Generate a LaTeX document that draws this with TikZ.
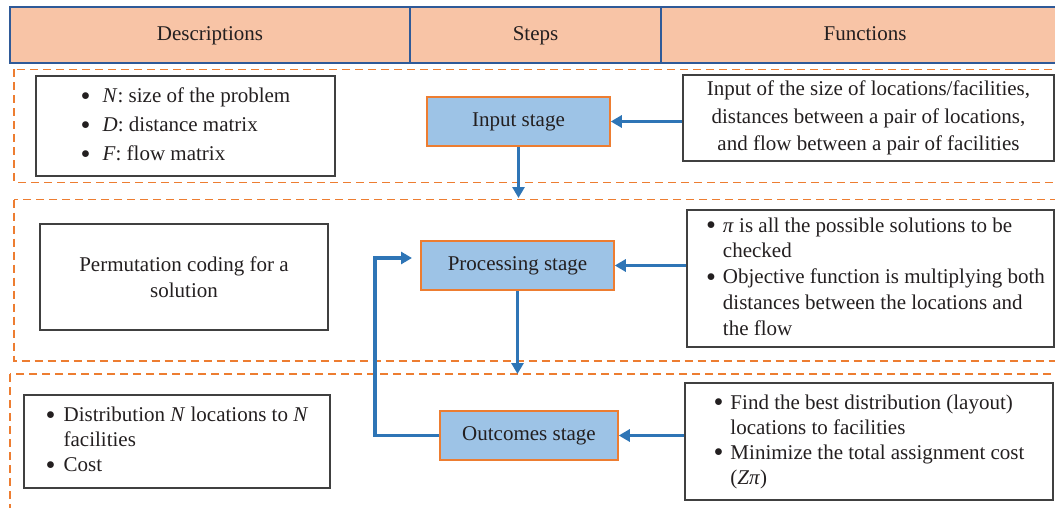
\documentclass[tikz,border=0pt]{standalone}
\usepackage{fontspec}
\setmainfont{Liberation Serif}
\usetikzlibrary{arrows.meta}
\definecolor{hdrfill}{HTML}{F8C4A6}
\definecolor{hdrline}{HTML}{2F5A98}
\definecolor{stagefill}{HTML}{9DC3E6}
\definecolor{orangeline}{HTML}{ED7D31}
\definecolor{arrowblue}{HTML}{2E75B6}
\definecolor{boxline}{HTML}{404040}
\definecolor{txt}{HTML}{231F20}
\tikzset{
  hdr/.style={draw=hdrline, line width=1.4pt, fill=hdrfill, minimum height=56pt, inner sep=0pt, text=txt},
  frame/.style={draw=orangeline, line width=1.4pt, dash pattern=on 8pt off 5pt},
  descbox/.style={draw=boxline, line width=1.4pt, inner sep=0pt, text=txt},
  stagebox/.style={draw=orangeline, line width=1.5pt, fill=stagefill, minimum height=49pt, inner sep=0pt, text=txt},
  arr/.style={draw=arrowblue, line width=3.2pt, -{Triangle[length=11pt,width=12pt]}},
}
\newcommand{\bb}{\raisebox{-2.5pt}{\scalebox{1.35}{\textbullet}}}
\begin{document}
\begin{tikzpicture}[x=1pt,y=-1pt, font=\fontsize{21}{29}\selectfont]
\useasboundingbox (0,0) rectangle (1055,508);
\clip (0,0) rectangle (1055,508);
% header
\node[hdr, minimum width=400pt] (hdesc) at (210,35) {\raisebox{-6pt}[0pt][0pt]{Descriptions}};
\node[hdr, minimum width=251pt] (hsteps) at (535.5,35) {\raisebox{-6pt}[0pt][0pt]{Steps}};
\node[hdr, minimum width=408pt] (hfunc) at (865,35) {\raisebox{-6pt}[0pt][0pt]{Functions}};
% dashed frames
\draw[frame] (14,69.5) rectangle (1070,182.5);
\draw[frame] (14,199.5) rectangle (1070,361);
\draw[frame] (10,374) rectangle (1070,530);
% description boxes
\node[descbox, minimum width=299pt, minimum height=100pt] (d1) at (185.5,126) {%
  \begin{tabular}{@{}l@{\hspace{12pt}}l@{}}
  \bb & \textit{N}: size of the problem\\
  \bb & \textit{D}: distance matrix\\
  \bb & \textit{F}: flow matrix
  \end{tabular}};
\node[descbox, minimum width=288pt, minimum height=106pt, align=center, font=\fontsize{21}{26}\selectfont] (d2) at (184,277) {Permutation coding for a\\solution};
\node[descbox, minimum width=306pt, minimum height=93pt, font=\fontsize{21}{25}\selectfont] (d3) at (177,441.5) {%
  \begin{tabular}{@{}l@{\hspace{8pt}}l@{}}
  \bb & Distribution \textit{N} locations to \textit{N}\\
      & facilities\\
  \bb & Cost
  \end{tabular}};
% stages
\node[stagebox, minimum width=183pt] (s1) at (518.5,121.5) {Input stage};
\node[stagebox, minimum width=193pt] (s2) at (517.5,265.5) {Processing stage};
\node[stagebox, minimum width=178pt] (s3) at (529,435.5) {Outcomes stage};
% function boxes
\node[descbox, minimum width=371pt, minimum height=86pt, align=center, font=\fontsize{21}{27.5}\selectfont] (f1) at (868.5,118) {Input of the size of locations/facilities,\\distances between a pair of locations,\\and flow between a pair of facilities};
\node[descbox, minimum width=367pt, minimum height=137pt, font=\fontsize{21}{25.7}\selectfont] (f2) at (870.5,278.5) {%
  \hspace*{10pt}\begin{tabular}{@{}l@{\hspace{7pt}}l@{}}
  \bb & \textit{π} is all the possible solutions to be\\
      & checked\\
  \bb & Objective function is multiplying both\\
      & distances between the locations and\\
      & the flow
  \end{tabular}};
\node[descbox, minimum width=368pt, minimum height=117pt, font=\fontsize{21}{25}\selectfont] (f3) at (869,441.5) {%
  \begin{tabular}{@{}l@{\hspace{7pt}}l@{}}
  \bb & Find the best distribution (layout)\\
      & locations to facilities\\
  \bb & Minimize the total assignment cost\\
      & (\textit{Zπ})
  \end{tabular}};
% connectors
\coordinate (c1) at (518.5,198);
\coordinate (c2) at (517.5,374);
\coordinate (lpc) at (375,258);
\coordinate (lp) at (412,258);
\draw[arr] (f1.west |- s1.east) -- (s1.east);
\draw[arr] (f2.west |- s2.east) -- (s2.east);
\draw[arr] (f3.west |- s3.east) -- (s3.east);
\draw[arr] (s1.south) -- (c1);
\draw[arr] (s2.south) -- (c2);
\draw[arr] (s3.west) -| (lpc) -- (lp);
\end{tikzpicture}
\end{document}
